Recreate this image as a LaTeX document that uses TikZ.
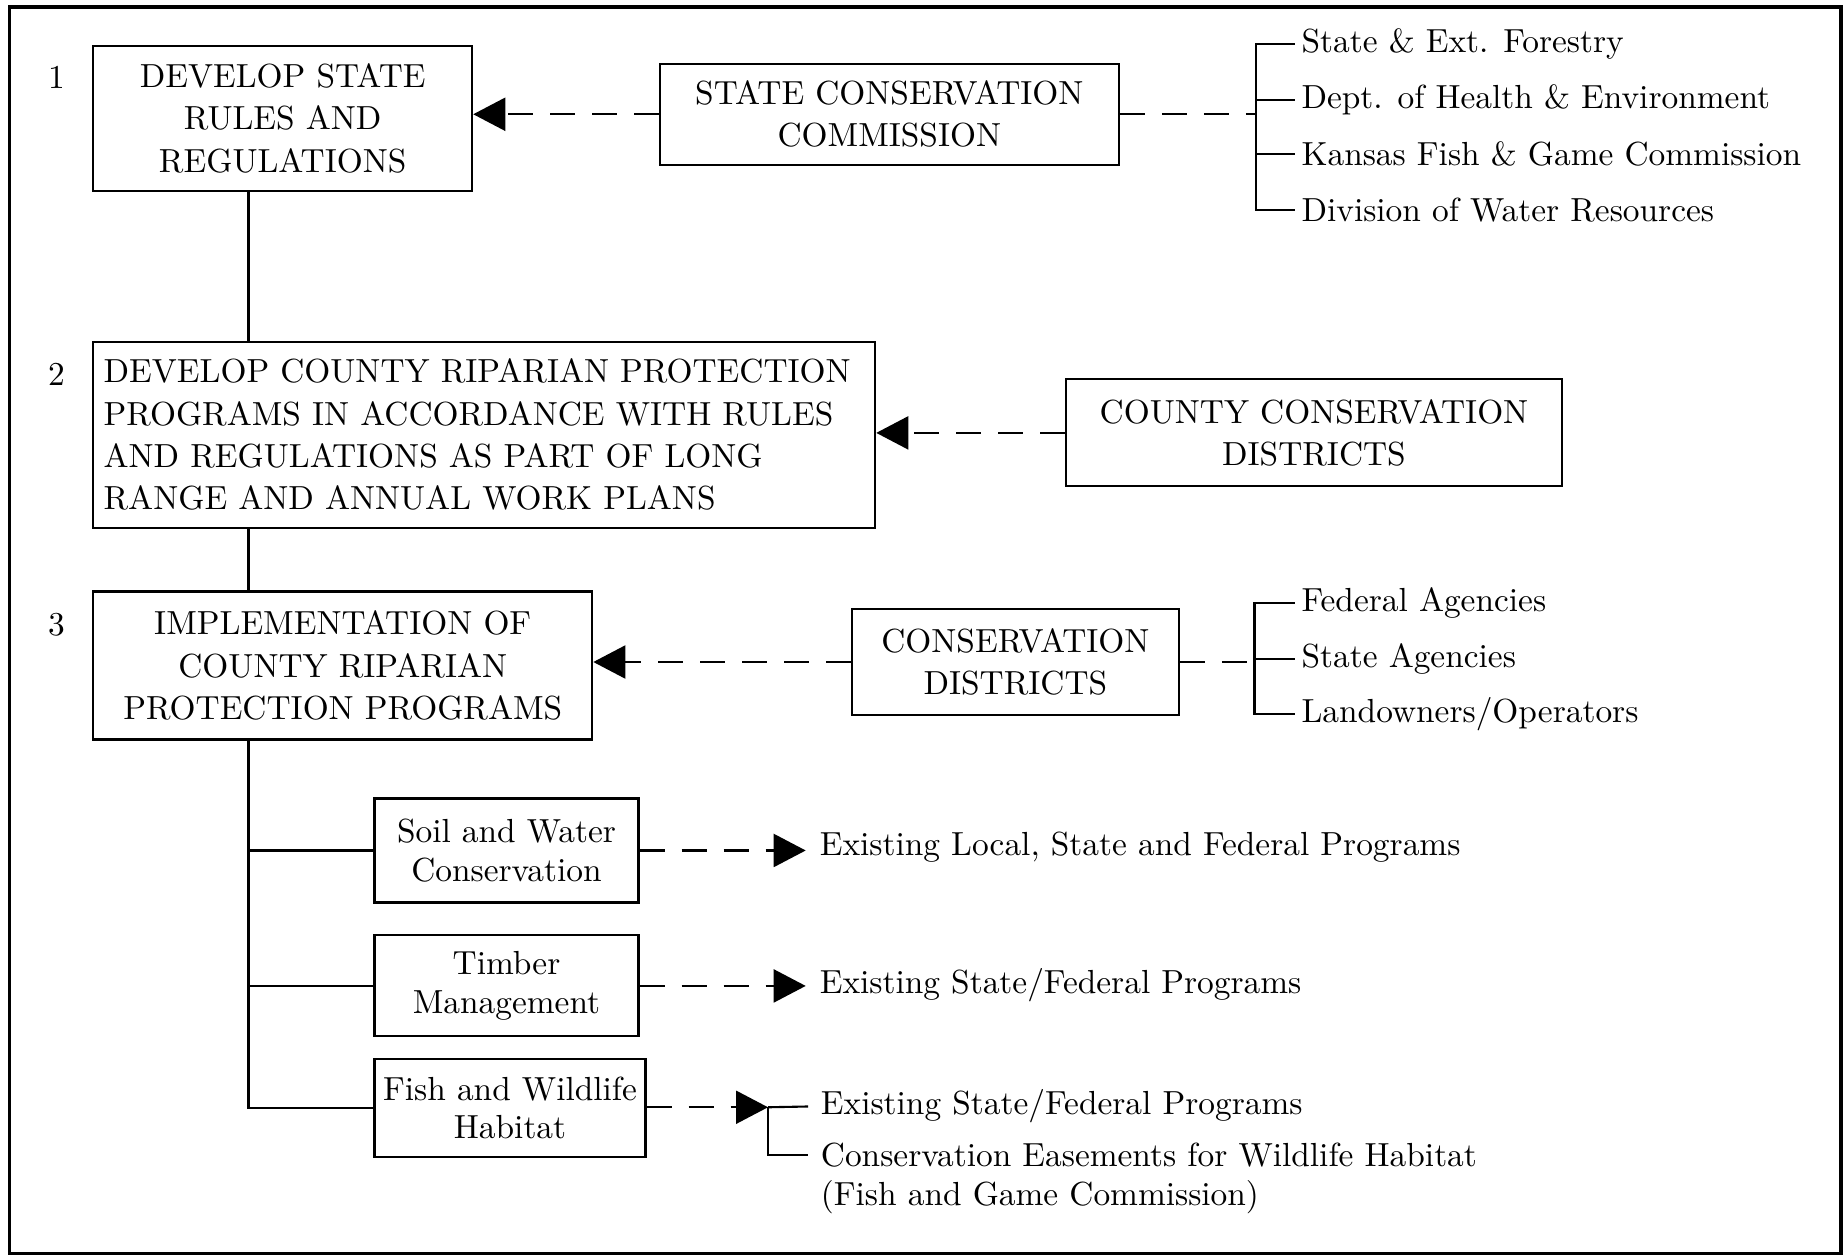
\documentclass[tikz,border=0pt]{standalone}
\usepackage{tikz}
\usetikzlibrary{positioning,calc,arrows.meta}

\begin{document}
\begin{tikzpicture}[x=0.01178cm, y=-0.01178cm, line width=0.6pt,
    every node/.style={font=\fontsize{9.5}{12}\selectfont},
    box/.style={draw, align=center, inner sep=0pt},
    smallbox/.style={box, font=\fontsize{9.5}{11}\selectfont},
    item/.style={inner xsep=1.7pt, inner ysep=1pt, anchor=mid west},
    prog/.style={item, inner xsep=0.13cm},
    dashline/.style={dash pattern=on 0.25cm off 0.17cm},
    dasharrow/.style={dashline, -{Triangle[length=0.32cm, width=0.33cm]}}]
    \useasboundingbox (0,0) rectangle (1568,1067);
    \draw[line width=1pt] (8,6) rectangle (1563,1064);
    \coordinate (trunk) at (211,0);
    \coordinate (brk1) at (1066,0);
    \coordinate (brk2) at (1065,0);
    % steps
    \node (n1) at (48,66) {1};
    \node (n2) at (48,318) {2};
    \node (n3) at (48,530) {3};
    \node[box, minimum width=3.79cm, minimum height=1.45cm] (rules) at (240,100.5) {DEVELOP STATE\\RULES AND\\REGULATIONS};
    \node[box, text width=7.61cm, align=left, inner xsep=0.106cm, minimum height=1.86cm] (county) at (411,369) {DEVELOP COUNTY RIPARIAN PROTECTION\\PROGRAMS IN ACCORDANCE WITH RULES\\AND REGULATIONS AS PART OF LONG\\RANGE AND ANNUAL WORK PLANS};
    \node[box, minimum width=4.99cm, minimum height=1.48cm] (impl) at (291,565) {IMPLEMENTATION OF\\COUNTY RIPARIAN\\PROTECTION PROGRAMS};
    % agencies
    \node[box, minimum width=4.59cm, minimum height=1.01cm] (scc) at (755,97) {STATE CONSERVATION\\COMMISSION};
    \node[box, minimum width=4.96cm, minimum height=1.07cm] (ccd) at (1115.5,367.5) {COUNTY CONSERVATION\\DISTRICTS};
    \node[box, minimum width=3.27cm, minimum height=1.06cm] (cd) at (862,562) {CONSERVATION\\DISTRICTS};
    \node[item] (s1) at (1099,38) {State \& Ext. Forestry};
    \node[item, below=0.565cm of s1.mid west, anchor=mid west] (s2) {Dept. of Health \& Environment};
    \node[item, below=0.565cm of s2.mid west, anchor=mid west] (s3) {Kansas Fish \& Game Commission};
    \node[item, below=0.565cm of s3.mid west, anchor=mid west] (s4) {Division of Water Resources};
    \node[item] (f1) at (1099,513) {Federal Agencies};
    \node[item, below=0.554cm of f1.mid west, anchor=mid west] (f2) {State Agencies};
    \node[item, below=0.554cm of f2.mid west, anchor=mid west] (f3) {Landowners/Operators};
    % programs
    \node[smallbox, minimum width=2.64cm, minimum height=1.04cm] (soil) at (430,722) {Soil and Water\\Conservation};
    \node[smallbox, minimum width=2.64cm, minimum height=1.01cm] (timber) at (430,837) {Timber\\Management};
    \node[smallbox, minimum width=2.71cm, minimum height=0.98cm] (fish) at (433,940.5) {Fish and Wildlife\\Habitat};
    \node[prog] (p1) at (684,720) {Existing Local, State and Federal Programs};
    \node[prog] (p2) at (684,837) {Existing State/Federal Programs};
    \node[prog, inner xsep=0.118cm] (e1) at (686,940) {Existing State/Federal Programs};
    \node[prog, inner xsep=0.118cm] (e2) at (686,984) {Conservation Easements for Wildlife Habitat};
    \node[prog, inner xsep=0.118cm, below=0.39cm of e2.mid west, anchor=mid west] (e3) {(Fish and Game Commission)};
    \coordinate (fork) at (652,940);
    % connectors
    \draw (rules.south -| trunk) -- (county.north -| trunk);
    \draw (county.south -| trunk) -- (impl.north -| trunk);
    \draw (impl.south -| trunk) |- (fish.west);
    \draw (soil.west) -- (soil.west -| trunk);
    \draw (timber.west) -- (timber.west -| trunk);
    \draw[dasharrow] (scc.west) -- (scc.west -| rules.east);
    \draw[dasharrow] (ccd.west) -- (ccd.west -| county.east);
    \draw[dasharrow] (cd.west) -- (cd.west -| impl.east);
    \draw[dashline] (scc.east) -- (scc.east -| brk1);
    \draw (s1.west) -| (brk1 |- s4.west) -- (s4.west);
    \draw (s2.west) -- (s2.west -| brk1);
    \draw (s3.west) -- (s3.west -| brk1);
    \draw[dashline] (cd.east) -- (cd.east -| brk2);
    \draw (f1.west) -| (brk2 |- f3.west) -- (f3.west);
    \draw (f2.west) -- (f2.west -| brk2);
    \draw[dasharrow] (soil.east) -- (soil.east -| p1.west);
    \draw[dasharrow] (timber.east) -- (timber.east -| p2.west);
    \draw[dasharrow] (fish.east |- fork) -- (fork);
    \draw (fork) -- (e1.west);
    \draw (fork) |- (e2.west);
\end{tikzpicture}
\end{document}
